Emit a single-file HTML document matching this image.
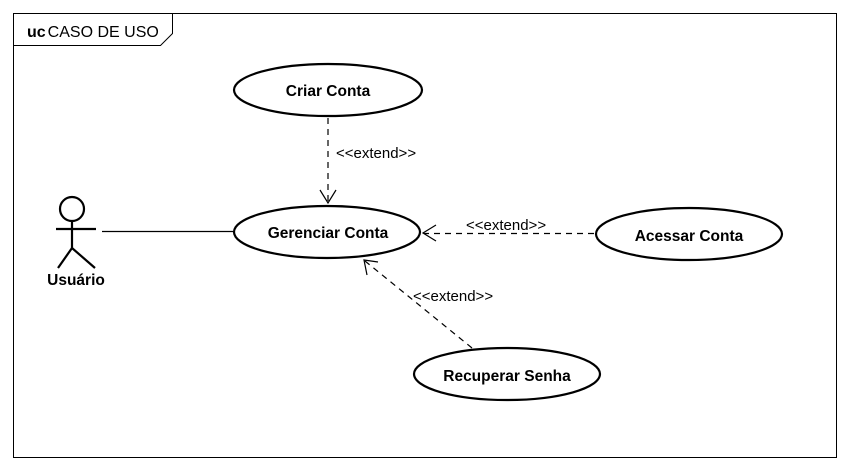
<!DOCTYPE html>
<html><head><meta charset="utf-8"><style>body{margin:0;background:#fff}svg{display:block}</style></head>
<body>
<svg width="849" height="470" xmlns="http://www.w3.org/2000/svg" font-family="Liberation Sans, sans-serif">
<rect x="0" y="0" width="849" height="470" fill="#fff"/>
<rect x="13.5" y="13.5" width="823" height="444" fill="none" stroke="#000" stroke-width="1"/>
<polyline points="13.5,45.5 160.5,45.5 172.5,33.5 172.5,13.5" fill="none" stroke="#000"/>
<text x="27" y="37" font-size="16"><tspan font-weight="bold">uc</tspan><tspan dx="2">CASO DE USO</tspan></text>
<g fill="none" stroke="#000" stroke-width="2.2">
<ellipse cx="328" cy="90" rx="94" ry="26"/>
<ellipse cx="327" cy="232" rx="93" ry="26"/>
<ellipse cx="689" cy="234" rx="93" ry="26"/>
<ellipse cx="507" cy="374" rx="93" ry="26"/>
<circle cx="72" cy="209" r="12"/>
<line x1="72" y1="221" x2="72" y2="248"/>
<line x1="56" y1="229" x2="96" y2="229"/>
<polyline points="58,268 72,248 95,268"/>
</g>
<line x1="102" y1="231.5" x2="234" y2="231.5" stroke="#000" stroke-width="1.2"/>
<g fill="none" stroke="#000" stroke-width="1.2">
<line x1="328" y1="118" x2="328" y2="203" stroke-dasharray="6,5"/>
<polyline points="320,190 328,203 336,190"/>
<line x1="594" y1="233.5" x2="424" y2="233.5" stroke-dasharray="6,5"/>
<polyline points="436,225 423,233 436,241"/>
<line x1="472" y1="348" x2="365" y2="261" stroke-dasharray="6,5"/>
<polyline points="367,275 364,260 378,262"/>
</g>
<g font-size="15.5" text-anchor="middle" font-weight="bold">
<text x="328" y="96">Criar Conta</text>
<text x="328" y="238">Gerenciar Conta</text>
<text x="689" y="241">Acessar Conta</text>
<text x="507" y="381">Recuperar Senha</text>
<text x="76" y="285">Usuário</text>
</g>
<g font-size="15">
<text x="336" y="158">&lt;&lt;extend&gt;&gt;</text>
<text x="466" y="230">&lt;&lt;extend&gt;&gt;</text>
<text x="413" y="301">&lt;&lt;extend&gt;&gt;</text>
</g>
</svg>
</body></html>
